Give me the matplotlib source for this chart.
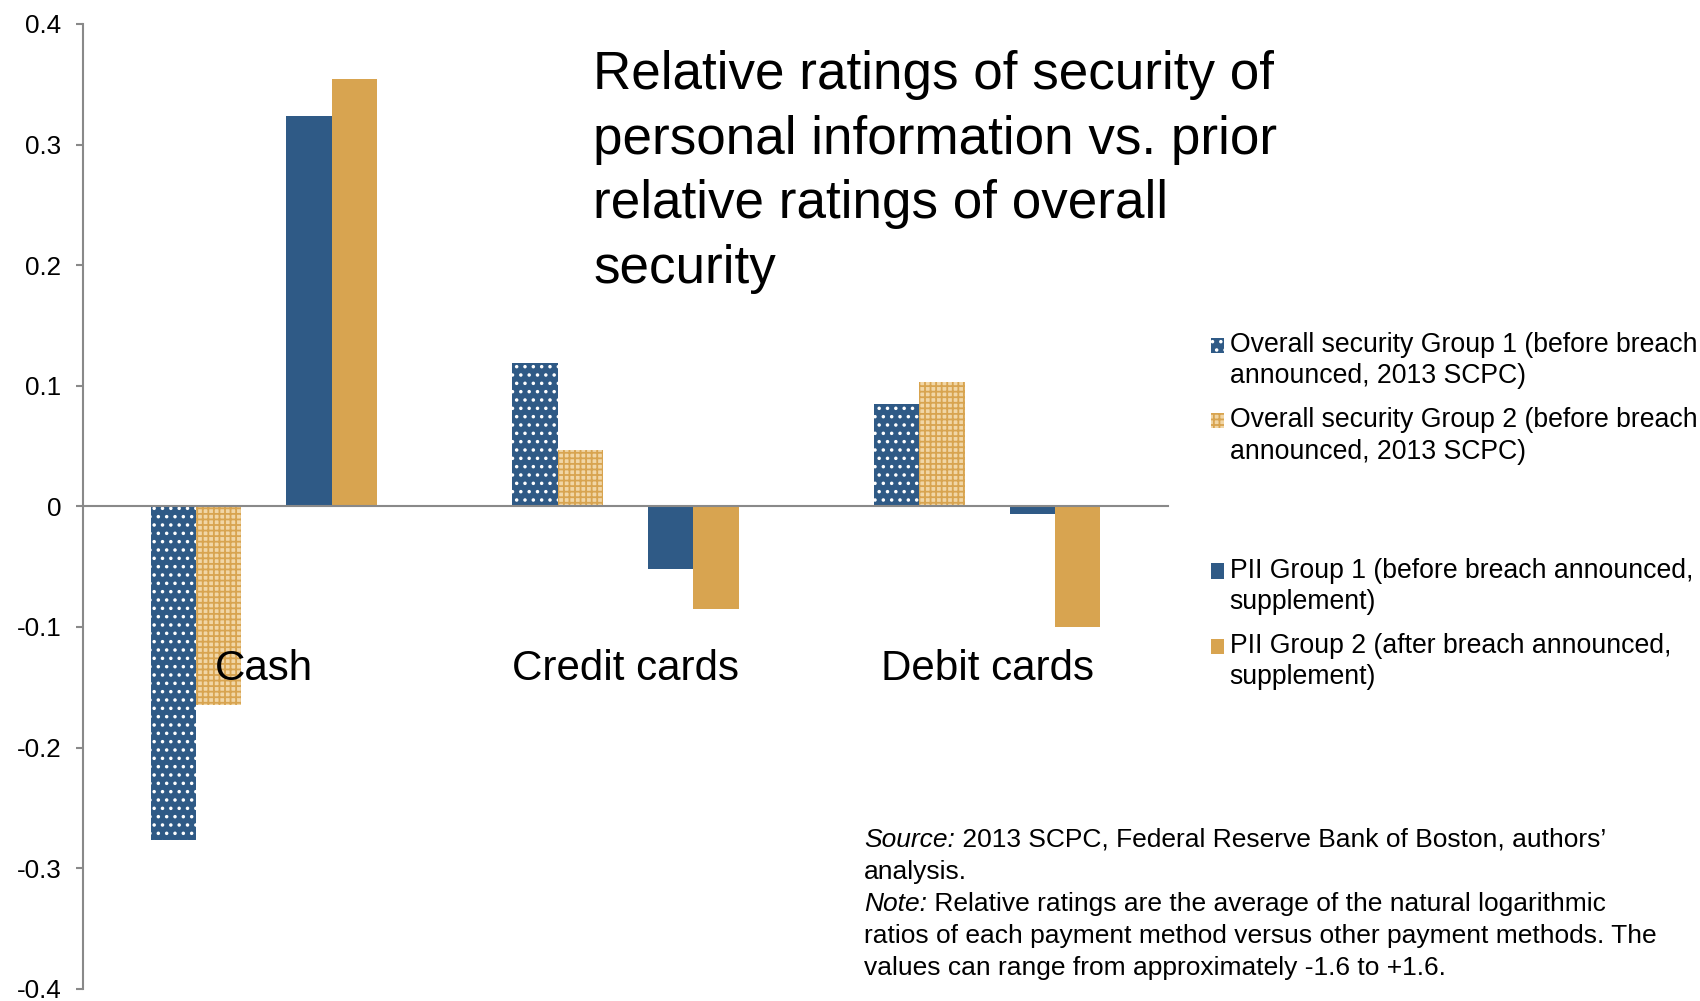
import matplotlib
matplotlib.use("Agg")
import matplotlib.pyplot as plt
import numpy as np
from matplotlib.patches import Patch, Rectangle
from matplotlib.legend_handler import HandlerPatch

plt.rcParams['font.family'] = ['Liberation Sans', 'DejaVu Sans']
plt.rcParams['hatch.linewidth'] = 1.3

# ---- data -------------------------------------------------------------
categories = ["Cash", "Credit cards", "Debit cards"]
overall_g1 = [-0.277, 0.119, 0.085]
overall_g2 = [-0.165, 0.047, 0.103]
pii_g1 = [0.324, -0.052, -0.006]
pii_g2 = [0.354, -0.085, -0.100]
series_labels = [
    "Overall security Group 1 (before breach\nannounced, 2013 SCPC)",
    "Overall security Group 2 (before breach\nannounced, 2013 SCPC)",
    "PII Group 1 (before breach announced,\nsupplement)",
    "PII Group 2 (after breach announced,\nsupplement)",
]
y_ticks = [-0.4, -0.3, -0.2, -0.1, 0.0, 0.1, 0.2, 0.3, 0.4]
y_tick_labels = ["-0.4", "-0.3", "-0.2", "-0.1", "0", "0.1", "0.2", "0.3", "0.4"]

title = ("Relative ratings of security of\npersonal information vs. prior\n"
         "relative ratings of overall\nsecurity")
source_lines = [
    ("Source:", " 2013 SCPC, Federal Reserve Bank of Boston, authors\u2019"),
    ("", "analysis."),
    ("Note:", " Relative ratings are the average of the natural logarithmic"),
    ("", "ratios of each payment method versus other payment methods. The"),
    ("", "values can range from approximately -1.6 to +1.6."),
]

# ---- style --------------------------------------------------------------
BLUE = "#2F5A86"
GOLD = "#D8A450"
GOLD_LIGHT = "#F1D6A6"
AXIS_GREY = "#898989"

fig = plt.figure(figsize=(17, 10.01), dpi=100)
ax = fig.add_axes([0.0487, 0.0122, 0.6385, 0.9639])

x = np.arange(len(categories))
width = 0.125
# (values, face, hatch, hatch colour, slot); five slots per category,
# the centre slot stays empty to split the pairs
series = [
    (overall_g1, BLUE, "..", "white", 0),
    (overall_g2, GOLD_LIGHT, "+++", GOLD, 1),
    (pii_g1, BLUE, None, BLUE, 3),
    (pii_g2, GOLD, None, GOLD, 4),
]
handles = []
for (vals, face, hatch, hcol, slot), label in zip(series, series_labels):
    offset = (slot - 2) * width
    ax.bar(x + offset, vals, width, color=face, hatch=hatch,
           edgecolor=hcol, linewidth=0, zorder=2)
    handles.append(Patch(facecolor=face, hatch=hatch, edgecolor=hcol,
                         linewidth=0, label=label))

# blank legend row between the two groups of series
spacer = Patch(facecolor="none", edgecolor="none", label=" \n ")
handles = handles[:2] + [spacer] + handles[2:]

ax.set_xlim(-0.5, len(categories) - 0.5)
ax.set_ylim(-0.4, 0.4)
ax.set_yticks(y_ticks, y_tick_labels)
ax.set_xticks([])
ax.tick_params(axis="y", direction="out", length=5, width=1.5,
               color=AXIS_GREY, pad=10.5, labelsize=18.7)

for side in ("top", "right"):
    ax.spines[side].set_visible(False)
ax.spines["left"].set_color(AXIS_GREY)
ax.spines["left"].set_linewidth(1.5)
ax.spines["bottom"].set_position(("data", 0))
ax.spines["bottom"].set_color(AXIS_GREY)
ax.spines["bottom"].set_linewidth(1.5)
ax.spines["bottom"].set_zorder(3)

for xi, cat in zip(x, categories):
    ax.text(xi, -0.144, cat, ha="center", va="baseline", fontsize=30.3,
            zorder=4)

# title block: anchored on the baseline of its last line
fig.text(593 / 1700, 1 - 282.5 / 1001, title, fontsize=38.2, va="baseline",
         ha="left", linespacing=1.37)


# legend squares sit beside the first line of each two-line label
def first_line_square(legend, orig_handle, xdescent, ydescent, width,
                      height, fontsize):
    return Rectangle((-xdescent, -ydescent + 0.6 * fontsize), width, height)


leg = fig.legend(handles=handles, loc="upper left",
                 bbox_to_anchor=(1211 / 1700, 1 - 332 / 1001),
                 frameon=False, fontsize=19.2, borderpad=0, borderaxespad=0,
                 handlelength=0.5, handleheight=0.5, handletextpad=0.2,
                 labelspacing=0.67,
                 handler_map={Patch: HandlerPatch(patch_func=first_line_square)})
for txt in leg.get_texts():
    txt.set_linespacing(1.27)

# source and note block, italic lead words followed by regular text
base_y = 847
pitch = 32
for i, (lead, rest) in enumerate(source_lines):
    y = 1 - (base_y + i * pitch) / 1001
    if lead:
        t = fig.text(864 / 1700, y, lead, fontsize=19, style="italic",
                     va="baseline", ha="left")
        ax.annotate(rest, xy=(1, 0), xycoords=t, va="bottom", ha="left",
                    fontsize=19, annotation_clip=False)
    else:
        fig.text(864 / 1700, y, rest, fontsize=19, va="baseline", ha="left")

fig.savefig("out.png", dpi=100)
